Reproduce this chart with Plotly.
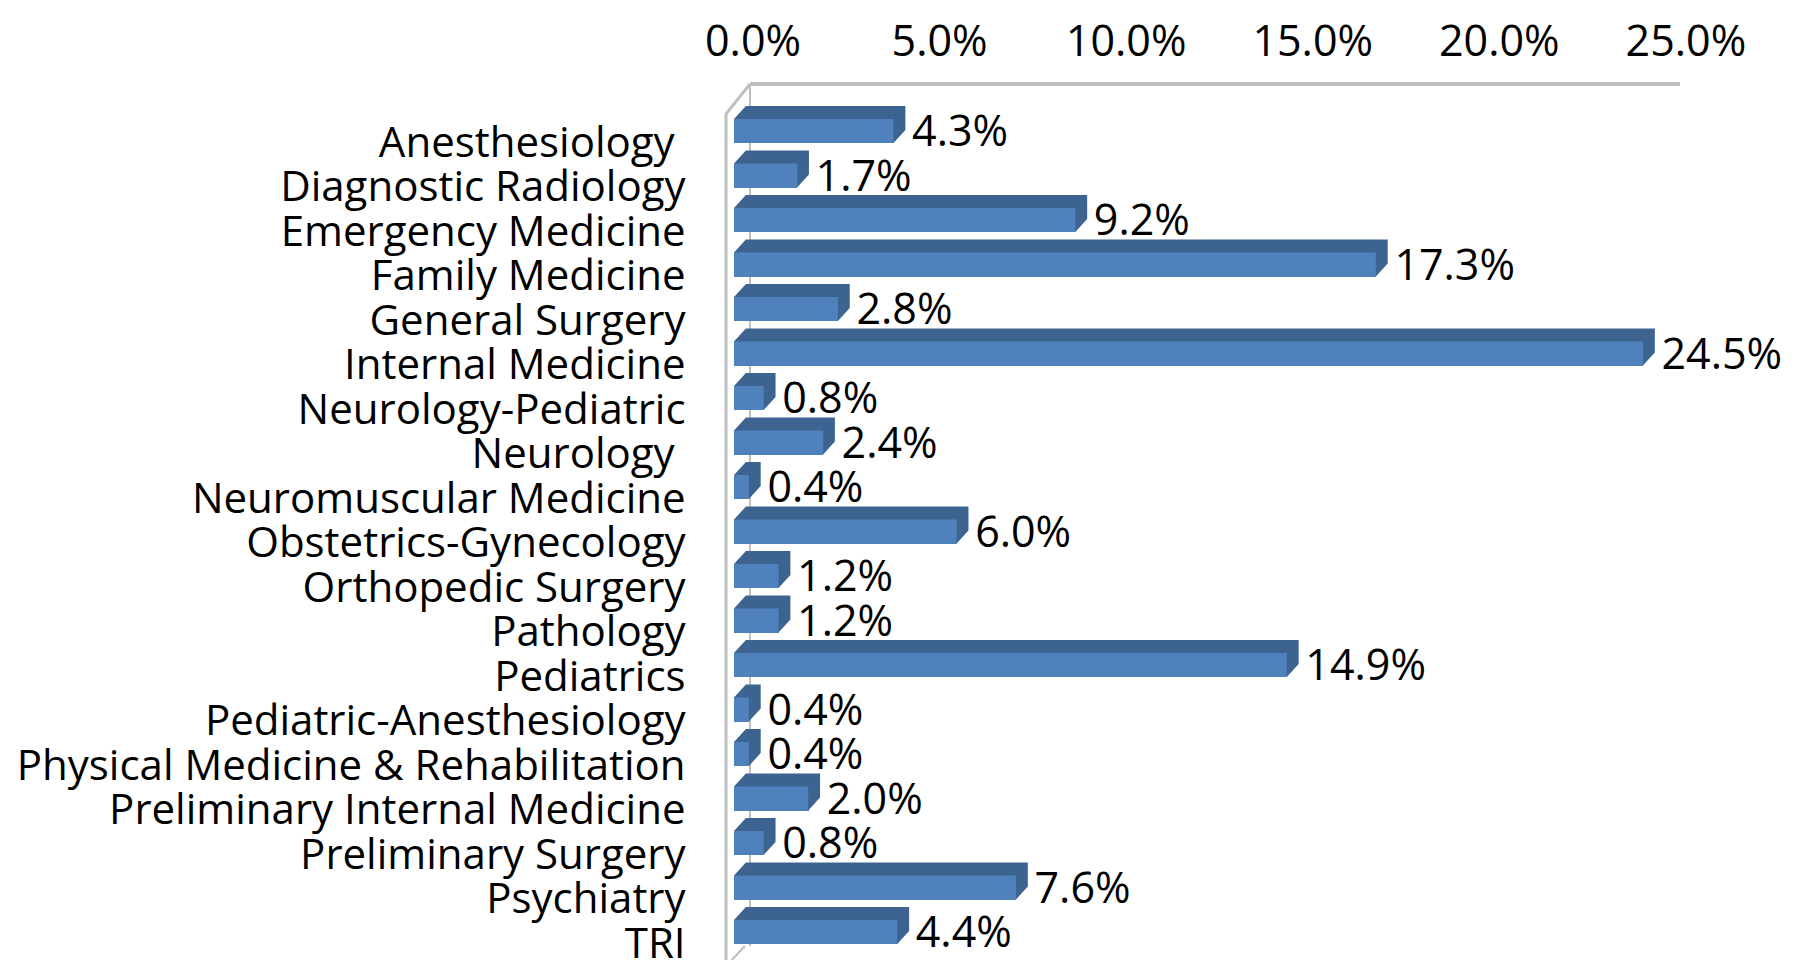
import plotly.graph_objects as go

categories = [
    "Anesthesiology\u00a0", "Diagnostic Radiology", "Emergency Medicine", "Family Medicine",
    "General Surgery", "Internal Medicine", "Neurology-Pediatric", "Neurology\u00a0",
    "Neuromuscular Medicine", "Obstetrics-Gynecology", "Orthopedic Surgery", "Pathology",
    "Pediatrics", "Pediatric-Anesthesiology", "Physical Medicine & Rehabilitation",
    "Preliminary Internal Medicine", "Preliminary Surgery", "Psychiatry", "TRI",
]
values = [4.3, 1.7, 9.2, 17.3, 2.8, 24.5, 0.8, 2.4, 0.4, 6.0, 1.2, 1.2, 14.9, 0.4, 0.4, 2.0, 0.8, 7.6, 4.4]
tick_values = [0, 5, 10, 15, 20, 25]
tick_labels = [f"{t:.1f}%" for t in tick_values]

W, H = 1800, 960
FONT = "Open Sans"
FRONT = "#4F81BD"
DARK = "#3D6491"
GRID = "#BFBFBF"

pos = list(range(len(categories)))
half = 0.27      # half height of the front face (y units)
depth_y = 0.29   # top face thickness (y units)
depth_x = 0.32   # depth offset (x units, %)

# top + side faces (3D look) as polygons derived from the data
px, py = [], []
for i, v in zip(pos, values):
    yt = i - half
    yb = i + half
    px += [0, depth_x, v + depth_x, v + depth_x, v, v, 0, None]
    py += [yt, yt - depth_y, yt - depth_y, yb - depth_y, yb, yt, yt, None]

fig = go.Figure()
fig.add_trace(go.Scatter(
    x=px, y=py, mode="lines", fill="toself", fillcolor=DARK,
    line=dict(width=0, color=DARK), hoverinfo="skip", showlegend=False,
))
fig.add_trace(go.Bar(
    x=values, y=pos, orientation="h", width=2 * half,
    marker=dict(color=FRONT, line=dict(width=0)),
    hoverinfo="skip", showlegend=False,
))
fig.add_trace(go.Scatter(
    x=[v + 0.5 for v in values], y=[i + 0.1 for i in pos], mode="text",
    text=[f"{v:.1f}%" for v in values], textposition="middle right",
    textfont=dict(family=FONT, size=43, color="black"),
    cliponaxis=False, hoverinfo="skip", showlegend=False,
))
# invisible trace to carry the (perspective-shifted) top axis
fig.add_trace(go.Scatter(
    x=values, y=pos, xaxis="x2", yaxis="y", mode="markers",
    marker=dict(opacity=0), hoverinfo="skip", showlegend=False,
))

def fx(p):
    return p / W

def fy(p):
    return 1 - p / H

x0_px, x_scale = 726.0, 37.1
x_lo, x_hi = -0.2, 25.0
y_top_px, y_bot_px = 78.0, 958.0
y_c0, y_step = 123.0, 44.5
back_y = 76.0

fig.update_layout(
    width=W, height=H,
    margin=dict(l=0, r=0, t=0, b=0),
    paper_bgcolor="white", plot_bgcolor="rgba(0,0,0,0)",
    font=dict(family=FONT, size=42, color="black"),
    bargap=0,
    xaxis=dict(
        range=[x_lo, x_hi],
        domain=[fx(x0_px + x_lo * x_scale), fx(x0_px + x_hi * x_scale)],
        showticklabels=False, showgrid=False, zeroline=False, showline=False,
        automargin=False, fixedrange=True,
    ),
    xaxis2=dict(
        range=[0, 25.03], domain=[fx(745), fx(1679)],
        anchor="free", position=fy(85), side="top",
        tickvals=tick_values, ticktext=tick_labels,
        tickfont=dict(family=FONT, size=43, color="black"),
        ticks="", ticklabelstandoff=28, ticklabeloverflow="allow",
        showline=False, showgrid=False, zeroline=False,
        automargin=False, fixedrange=True,
    ),
    yaxis=dict(
        range=[(y_bot_px - y_c0) / y_step, (y_top_px - y_c0) / y_step],
        domain=[fy(y_bot_px), fy(y_top_px)],
        tickvals=[i + 0.25 for i in pos], ticktext=categories,
        tickfont=dict(family=FONT, size=42, color="black"),
        ticks="", ticklabelstandoff=40, ticklabeloverflow="allow",
        showgrid=False, zeroline=False, showline=False,
        automargin=False, fixedrange=True,
    ),
    shapes=[
        dict(type="line", xref="paper", yref="paper", layer="below",
             x0=fx(742), y0=fy(back_y), x1=fx(1672), y1=fy(back_y),
             line=dict(color=GRID, width=4)),
        dict(type="path", xref="paper", yref="paper", layer="below",
             path=f"M {fx(718)} {fy(958)} L {fx(718)} {fy(106)} L {fx(742)} {fy(back_y)}",
             line=dict(color=GRID, width=3)),
        dict(type="line", xref="paper", yref="paper", layer="below",
             x0=fx(742), y0=fy(back_y), x1=fx(742), y1=fy(938),
             line=dict(color=GRID, width=2)),
        dict(type="line", xref="paper", yref="paper", layer="below",
             x0=fx(718), y0=fy(958), x1=fx(737), y1=fy(938),
             line=dict(color=GRID, width=2)),
    ],
)

fig.write_html("out.html")
